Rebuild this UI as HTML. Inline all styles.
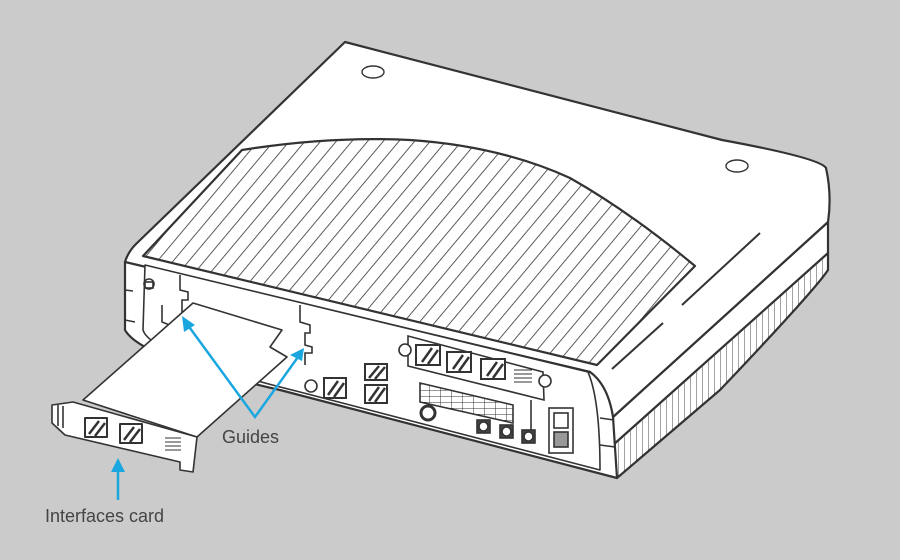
<!DOCTYPE html>
<html><head><style>html,body{margin:0;padding:0;background:#cbcbcb}svg{display:block}</style></head>
<body>
<svg width="900" height="560" viewBox="0 0 900 560" xmlns="http://www.w3.org/2000/svg">
<defs>
<pattern id="hatch" patternUnits="userSpaceOnUse" width="12" height="12" patternTransform="rotate(40)">
<rect width="12" height="12" fill="#fff"/><line x1="0" y1="0" x2="0" y2="12" stroke="#333" stroke-width="1.6"/></pattern>
<pattern id="rib" patternUnits="userSpaceOnUse" width="6" height="6">
<rect width="6" height="6" fill="#fff"/><line x1="0" y1="0" x2="0" y2="6" stroke="#444" stroke-width="1"/></pattern>
<pattern id="grid" patternUnits="userSpaceOnUse" width="11" height="6">
<rect width="11" height="6" fill="#fff"/><path d="M0 0H11M0 0V6" stroke="#333" stroke-width="1"/></pattern>
</defs>
<rect width="900" height="560" fill="#cbcbcb"/>
<g stroke="#333" stroke-width="2.2" stroke-linejoin="round" fill="#fff">
<path d="M613 445 L828 253 L828 270 Q815 290 720 390 L617 478 Z" fill="url(#rib)"/>
<path d="M613 417 L828 222 L828 253 L613 445 Z"/>
<path d="M345 42 L722 140 Q820 158 826 168 Q832 195 828 222 L613 417 Q607 385 590 372 L125 262 Q128 252 136 244 Z"/>
<path d="M125 262 L590 372 Q608 385 613 417 L617 478 L280 390 Q140 358 125 330 Z"/>
<path d="M145 265 L588 372 Q600 400 600 470 L300 392 Q150 355 143 330 Z" stroke-width="1.6"/>
<path d="M242 150 Q330 136 410 140 Q500 146 570 178 Q630 212 695 266 L597 365 L143 256 Z" fill="url(#hatch)"/>
</g>
<g stroke="#333" stroke-width="2" fill="none">
<line x1="612" y1="369" x2="663" y2="323"/>
<line x1="682" y1="305" x2="760" y2="233"/>
<ellipse cx="373" cy="72" rx="11" ry="6" stroke-width="1.4"/>
<ellipse cx="737" cy="166" rx="11" ry="6" stroke-width="1.4"/>
<path d="M125 290 L133 291 M125 320 L135 322 M600 418 L614 420 M600 445 L615 447" stroke-width="1.5"/>
</g>
<g stroke="#333" stroke-width="1.6" fill="#fff">
<path d="M408 336 L543 372 L544 400 L408 366 Z"/>
<circle cx="405" cy="350" r="6"/><circle cx="545" cy="381" r="6"/>
<path d="M416 345 h24 v20 h-24z M447 352 h24 v20 h-24z M481 359 h24 v20 h-24z" stroke-width="2"/>
<path d="M422 362 l10 -14 M428 364 l10 -14 M453 369 l10 -14 M459 371 l10 -14 M487 376 l10 -14 M493 378 l10 -14" stroke-width="2.5"/>
<path d="M514 370h18M514 374h18M514 378h18M514 382h18" stroke-width="1"/>
<path d="M420 383 L513 405 L513 423 L420 402 Z" fill="url(#grid)"/>
<circle cx="428" cy="413" r="7" stroke-width="3"/>
<rect x="477" y="420" width="13" height="13" fill="#444"/><circle cx="483.5" cy="426.5" r="4.5" fill="#fff"/>
<rect x="500" y="425" width="13" height="13" fill="#444"/><circle cx="506.5" cy="431.5" r="4.5" fill="#fff"/>
<rect x="522" y="430" width="13" height="13" fill="#444"/><circle cx="528.5" cy="436.5" r="4.5" fill="#fff"/>
<path d="M531 400 V430" fill="none"/>
<rect x="549" y="408" width="24" height="45"/>
<rect x="554" y="413" width="14" height="15"/>
<rect x="554" y="432" width="14" height="15" fill="#999"/>
<path d="M324 378 h22 v20 h-22z M365 364 h22 v16 h-22z M365 385 h22 v18 h-22z" stroke-width="2"/>
<path d="M328 395 l10 -14 M334 397 l10 -14 M369 378 l10 -12 M375 379 l10 -12 M369 401 l10 -14 M375 402 l10 -14" stroke-width="2.5"/>
<circle cx="311" cy="386" r="6"/>
<path d="M180 275 V290 L188 292 V300 L182 300 V318 M300 305 V322 L310 325 V333 L305 333 V345 L312 347 V353 L305 353 V365" fill="none"/>
<path d="M162 305 V322 L172 326" fill="none"/>
<rect x="145" y="282" width="8" height="6" fill="none"/><circle cx="149" cy="284" r="5" fill="none"/>
</g>
<g stroke="#333" stroke-width="1.6" fill="#fff" stroke-linejoin="round">
<path d="M193 303 L282 330 L270 347 L287 357 L197 437 L83 400 Z"/>
<path d="M52 405 L73 402 L197 437 L193 472 L180 470 L180 462 L65 435 L52 423 Z"/>
<path d="M63 406 V428 M58 405 V426" fill="none"/>
<path d="M85 418 h22 v19 h-22z M120 424 h22 v19 h-22z" stroke-width="2"/>
<path d="M89 434 l10 -13 M95 436 l10 -13 M124 440 l10 -13 M130 442 l10 -13" stroke-width="2.5"/>
<path d="M165 438h16M165 442h16M165 446h16M165 450h16" stroke-width="1"/>
</g>
<g stroke="#1aa7e0" stroke-width="2.5" fill="none">
<line x1="118" y1="500" x2="118" y2="470"/>
<polyline points="187,324 255,417 298,357"/>
</g>
<g fill="#1aa7e0">
<polygon points="118,458 111,472 125,472"/>
<polygon points="182,316 184,332 195,325"/>
<polygon points="304,348 290,355 302,361"/>
</g>
<g font-family="Liberation Sans, sans-serif" font-size="18" fill="#444">
<text x="222" y="443">Guides</text>
<text x="45" y="522">Interfaces card</text>
</g>
</svg>
</body></html>
